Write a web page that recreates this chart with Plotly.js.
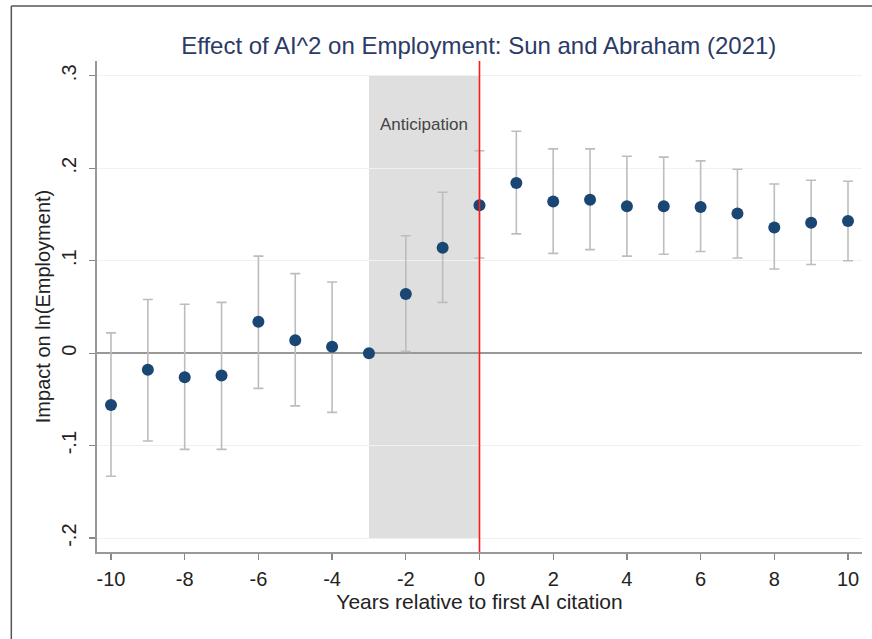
<!DOCTYPE html>
<html>
<head>
<meta charset="utf-8">
<script src="https://cdn.plot.ly/plotly-3.0.1.min.js"></script>
<style>
  html, body { margin: 0; padding: 0; background: #fff; }
  #chart { width: 872px; height: 639px; }
</style>
</head>
<body>
<div id="chart"></div>
<script>
// Event-study estimates
const years  = [-10, -9, -8, -7, -6, -5, -4, -3, -2, -1, 0, 1, 2, 3, 4, 5, 6, 7, 8, 9, 10];
const coef   = [-0.056, -0.018, -0.026, -0.024, 0.034, 0.014, 0.007, 0.0, 0.064, 0.114, 0.160, 0.184, 0.164, 0.166, 0.159, 0.159, 0.158, 0.151, 0.136, 0.141, 0.143];
const ciHigh = [0.022, 0.058, 0.053, 0.055, 0.105, 0.086, 0.077, null, 0.127, 0.174, 0.219, 0.240, 0.221, 0.221, 0.213, 0.212, 0.208, 0.199, 0.183, 0.187, 0.186];
const ciLow  = [-0.133, -0.095, -0.104, -0.104, -0.038, -0.057, -0.064, null, 0.002, 0.055, 0.103, 0.129, 0.108, 0.112, 0.105, 0.107, 0.110, 0.103, 0.091, 0.096, 0.100];

const xTickVals = [-10, -8, -6, -4, -2, 0, 2, 4, 6, 8, 10];
const xTickText = ['-10', '-8', '-6', '-4', '-2', '0', '2', '4', '6', '8', '10'];
const yTickVals = [-0.2, -0.1, 0, 0.1, 0.2, 0.3];
const yTickText = ['-.2', '-.1', '0', '.1', '.2', '.3'];

const anticipationStart = -3;
const anticipationEnd = 0;
const anticipationLabel = 'Anticipation';

const errPlus  = coef.map((c, i) => ciHigh[i] === null ? NaN : ciHigh[i] - c);
const errMinus = coef.map((c, i) => ciLow[i] === null ? NaN : c - ciLow[i]);

const FONT = '"Liberation Sans", Arial, Helvetica, sans-serif';

const trace = {
  type: 'scatter',
  mode: 'markers',
  x: years,
  y: coef,
  marker: { color: '#1a4674', size: 12 },
  error_y: {
    type: 'data',
    symmetric: false,
    array: errPlus,
    arrayminus: errMinus,
    color: '#bdbdbd',
    thickness: 1.6,
    width: 5
  },
  hoverinfo: 'x+y',
  showlegend: false,
  cliponaxis: false
};

const layout = {
  width: 872,
  height: 639,
  paper_bgcolor: '#ffffff',
  plot_bgcolor: '#ffffff',
  margin: { l: 97, r: 10, t: 61, b: 87, pad: 0 },
  font: { family: FONT, color: '#222', size: 20 },
  title: {
    text: 'Effect of AI^2 on Employment: Sun and Abraham (2021)',
    font: { family: FONT, size: 24, color: '#2b3a66' },
    x: 0.549, xanchor: 'center',
    y: 0.929, yanchor: 'middle'
  },
  xaxis: {
    range: [-10.38, 10.38],
    tickvals: xTickVals,
    ticktext: xTickText,
    ticks: 'outside',
    ticklen: 6,
    tickwidth: 1.3,
    tickcolor: '#888',
    ticklabelstandoff: 2,
    showline: true,
    linecolor: '#999',
    linewidth: 1.6,
    showgrid: false,
    zeroline: false,
    tickfont: { family: FONT, size: 20, color: '#222' },
    title: { text: 'Years relative to first AI citation', font: { family: FONT, size: 21, color: '#222' }, standoff: 1 }
  },
  yaxis: {
    range: [-0.215, 0.316],
    tickvals: yTickVals,
    ticktext: yTickText,
    tickangle: -90,
    ticks: 'outside',
    ticklen: 6,
    tickwidth: 1.3,
    tickcolor: '#888',
    ticklabelstandoff: 5,
    showline: true,
    linecolor: '#999',
    linewidth: 1.6,
    showgrid: true,
    gridcolor: '#edf3f3',
    gridwidth: 1.2,
    zeroline: true,
    zerolinecolor: '#999',
    zerolinewidth: 1.8,
    tickfont: { family: FONT, size: 20, color: '#222' },
    title: { text: 'Impact on ln(Employment)', font: { family: FONT, size: 20, color: '#222' }, standoff: 2 }
  },
  shapes: [
    {
      type: 'rect', xref: 'x', yref: 'y',
      x0: anticipationStart, x1: anticipationEnd, y0: -0.2, y1: 0.3,
      fillcolor: '#dfdfdf', line: { width: 0 }, layer: 'below'
    },
    {
      type: 'line', xref: 'x', yref: 'paper',
      x0: anticipationEnd, x1: anticipationEnd, y0: 0, y1: 1,
      line: { color: '#ff1a1a', width: 1.6 }, layer: 'above'
    },
    // outer figure frame
    {
      type: 'line', xref: 'paper', yref: 'paper',
      x0: -0.112, x1: 1.1, y0: 1.112, y1: 1.112,
      line: { color: '#555', width: 1.5 }
    },
    {
      type: 'line', xref: 'paper', yref: 'paper',
      x0: -0.112, x1: -0.112, y0: 1.112, y1: -0.2,
      line: { color: '#555', width: 1.5 }
    }
  ],
  annotations: [
    {
      xref: 'x', yref: 'y',
      x: (anticipationStart + anticipationEnd) / 2, y: 0.247,
      text: anticipationLabel,
      showarrow: false,
      font: { family: FONT, size: 17, color: '#444' }
    }
  ]
};

Plotly.newPlot('chart', [trace], layout, { displayModeBar: false, staticPlot: true });
</script>
</body>
</html>
